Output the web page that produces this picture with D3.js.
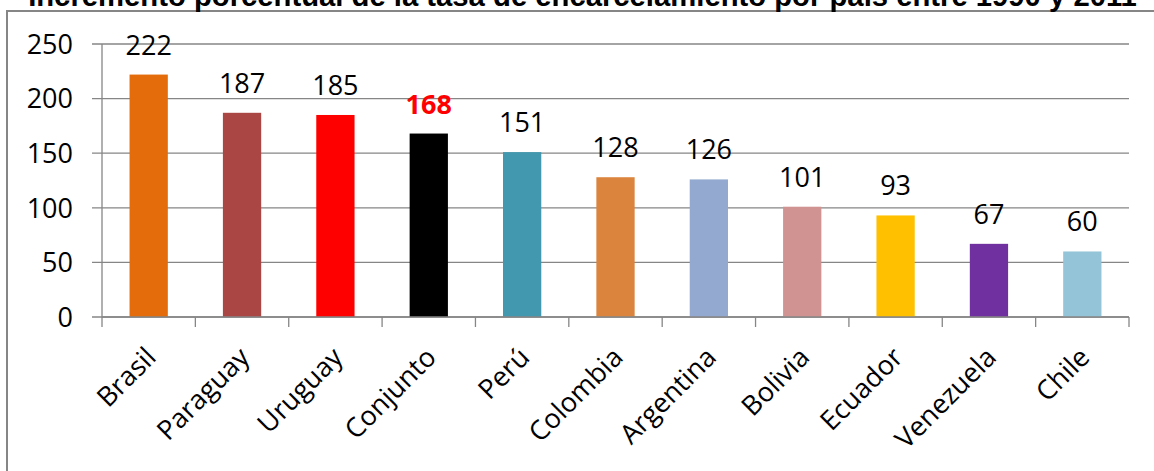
<!DOCTYPE html>
<html><head><meta charset="utf-8">
<script src="https://cdn.jsdelivr.net/npm/d3@7"></script>
<style>html,body{margin:0;padding:0;background:#fff;overflow:hidden}</style>
</head><body>
<svg id="c" width="1154" height="471"></svg>
<script>
const title = "Incremento porcentual de la tasa de encarcelamiento por país entre 1990 y 2011";
const categories = ["Brasil","Paraguay","Uruguay","Conjunto","Perú","Colombia","Argentina","Bolivia","Ecuador","Venezuela","Chile"];
const values = [222,187,185,168,151,128,126,101,93,67,60];
const colors = ["#E46C0A","#AA4643","#FF0000","#000000","#4198AF","#DB843D","#93A9CF","#D19392","#FFC000","#7030A0","#93C4D7"];
const yTicks = [0,50,100,150,200,250];
const highlight = "Conjunto";

const svg = d3.select("#c");
const W = 1154, H = 471;
const plot = {left:102, right:1129, top:44, bottom:317};
const font = "'Open Sans', sans-serif";
const grey = "#868686";
const fs = 27;

// frame
svg.append("rect").attr("x",7).attr("y",11).attr("width",W+20).attr("height",H+20)
  .attr("fill","none").attr("stroke",grey).attr("stroke-width",2);

// title
const t = svg.append("text").attr("x",(28+1137)/2).attr("y",6).attr("text-anchor","middle")
  .attr("font-family","Arial, 'Liberation Sans', sans-serif").attr("font-weight","bold")
  .attr("font-size",20).attr("fill","#000").text(title);
const tw = t.node().getComputedTextLength();
t.attr("font-size", 20*(1137-28)/tw);

const x = d3.scaleBand().domain(categories).range([plot.left, plot.right]).padding(0);
const y = d3.scaleLinear().domain([0,250]).range([plot.bottom, plot.top]);
const barW = x.bandwidth()*0.41;

// gridlines
svg.append("g").selectAll("line").data(yTicks).join("line")
  .attr("x1",plot.left-10).attr("x2",plot.right)
  .attr("y1",d=>y(d)).attr("y2",d=>y(d))
  .attr("stroke",grey).attr("stroke-width",1.3);

// y axis
svg.append("line").attr("x1",plot.left).attr("x2",plot.left).attr("y1",y(250)).attr("y2",y(0))
  .attr("stroke",grey).attr("stroke-width",1.3);
svg.append("g").selectAll("text").data(yTicks).join("text")
  .attr("x",73).attr("y",d=>y(d)).attr("dy","0.36em").attr("text-anchor","end")
  .attr("font-family",font).attr("font-size",fs).attr("fill","#000").text(d=>d);

// bars
svg.append("g").selectAll("rect").data(categories).join("rect")
  .attr("x",(d)=>x(d)+(x.bandwidth()-barW)/2)
  .attr("width",barW)
  .attr("y",(d,i)=>y(values[i]))
  .attr("height",(d,i)=>y(0)-y(values[i]))
  .attr("fill",(d,i)=>colors[i]);

// x axis
svg.append("line").attr("x1",plot.left).attr("x2",plot.right).attr("y1",y(0)).attr("y2",y(0))
  .attr("stroke",grey).attr("stroke-width",1.5);
const edges = categories.map(c=>x(c)).concat([plot.right]);
svg.append("g").selectAll("line").data(edges).join("line")
  .attr("x1",d=>d).attr("x2",d=>d).attr("y1",y(0)).attr("y2",y(0)+10)
  .attr("stroke",grey).attr("stroke-width",1.3);

// value labels
svg.append("g").selectAll("text").data(categories).join("text")
  .attr("x",d=>x(d)+x.bandwidth()/2)
  .attr("y",(d,i)=>y(values[i])-20)
  .attr("text-anchor","middle").attr("font-family",font).attr("font-size",fs)
  .attr("font-weight",d=>d===highlight?"bold":"normal")
  .attr("fill",d=>d===highlight?"#FF0000":"#000")
  .text((d,i)=>values[i]);

// category labels
svg.append("g").selectAll("text").data(categories).join("text")
  .attr("transform",d=>`translate(${x(d)+x.bandwidth()/2+9},${y(0)+42}) rotate(-45)`)
  .attr("text-anchor","end").attr("font-family",font).attr("font-size",fs).attr("fill","#000")
  .text(d=>d);
</script>
</body></html>
